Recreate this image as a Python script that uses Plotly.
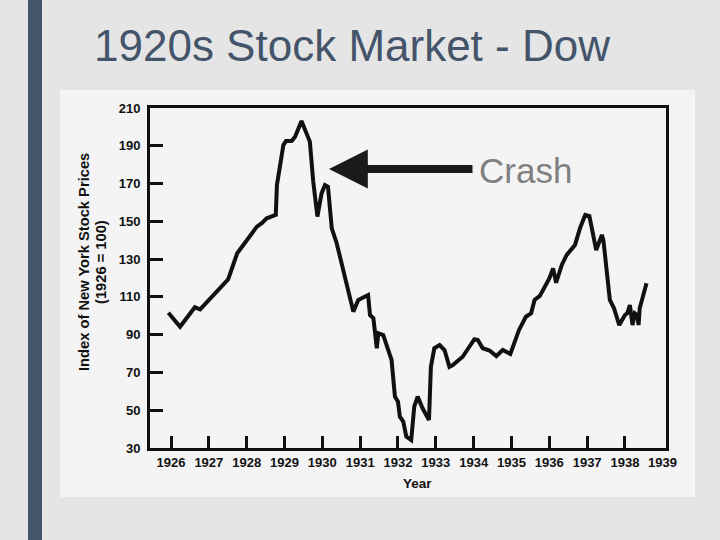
import plotly.graph_objects as go

# ---- data ----
years = [1925.93, 1926.24, 1926.63, 1926.77, 1927.51, 1927.60, 1927.75, 1928.27, 1928.40,
         1928.53, 1928.77, 1928.80, 1928.88, 1928.97, 1929.04, 1929.19, 1929.28, 1929.45,
         1929.67, 1929.76, 1929.87, 1929.98, 1930.07, 1930.15, 1930.25, 1930.38, 1930.82,
         1930.95, 1931.21, 1931.26, 1931.35, 1931.44, 1931.48, 1931.61, 1931.83, 1931.92,
         1932.00, 1932.05, 1932.14, 1932.22, 1932.35, 1932.43, 1932.52, 1932.65, 1932.82,
         1932.87, 1932.96, 1933.10, 1933.23, 1933.36, 1933.45, 1933.71, 1934.02, 1934.11,
         1934.24, 1934.42, 1934.60, 1934.77, 1934.97, 1935.20, 1935.38, 1935.52, 1935.61,
         1935.75, 1936.00, 1936.10, 1936.18, 1936.33, 1936.46, 1936.60, 1936.68, 1936.81,
         1936.95, 1937.06, 1937.24, 1937.39, 1937.43, 1937.60, 1937.71, 1937.85, 1938.00,
         1938.06, 1938.13, 1938.20, 1938.26, 1938.32, 1938.36, 1938.39, 1938.57]
index_values = [101.6, 94.2, 104.5, 103.4, 119.3, 124.2, 133.1, 147.2, 149.0,
                151.6, 153.4, 169.2, 178.1, 190.4, 192.5, 192.5, 194.8, 203.1,
                192.2, 171.0, 152.5, 164.8, 169.2, 168.3, 146.3, 138.4, 102.2,
                108.4, 111.0, 100.4, 98.7, 82.8, 90.7, 89.8, 76.6, 57.2,
                54.5, 46.6, 44.0, 36.0, 34.2, 51.9, 57.2, 51.0, 44.8,
                73.0, 82.8, 84.5, 81.9, 73.0, 73.9, 78.3, 87.6, 87.2,
                82.8, 81.6, 78.7, 81.9, 79.8, 92.5, 99.5, 101.3, 108.4,
                110.5, 119.8, 125.1, 117.5, 126.9, 132.2, 135.7, 137.5, 146.3,
                153.4, 152.8, 134.8, 142.8, 140.1, 108.4, 104.0, 95.1, 100.4,
                101.3, 105.7, 95.1, 101.3, 100.4, 95.1, 104.0, 117.2]
year_ticks = [1926, 1927, 1928, 1929, 1930, 1931, 1932, 1933, 1934, 1935, 1936, 1937, 1938, 1939]
value_ticks = [30, 50, 70, 90, 110, 130, 150, 170, 190, 210]

title_text = "1920s Stock Market - Dow"
y_title_1 = "Index of New York Stock Prices"
y_title_2 = "(1926 = 100)"
x_title = "Year"
crash_label = "Crash"

# ---- layout geometry (pixels) ----
W, H = 720, 540
L, R, T, B = 150, 666, 108, 448
pw, ph = R - L, B - T


def px(x):
    return (x - L) / pw


def py(y):
    return (B - y) / ph


FONT = "Liberation Sans, Arial, sans-serif"
INK = "#111111"

fig = go.Figure()
fig.add_trace(go.Scatter(
    x=years, y=index_values, mode="lines",
    line=dict(color=INK, width=4),
    hoverinfo="skip", showlegend=False,
))

shapes = [
    # scanned chart image background
    dict(type="rect", xref="paper", yref="paper", x0=px(60), x1=px(695), y0=py(497), y1=py(90),
         fillcolor="#f4f4f4", line=dict(width=0), layer="below"),
    # dark accent bar
    dict(type="rect", xref="paper", yref="paper", x0=px(28), x1=px(42), y0=py(540), y1=py(0),
         fillcolor="#44546a", line=dict(width=0), layer="below"),
]

annotations = [
    dict(text=title_text, xref="paper", yref="paper", x=px(92), y=py(45),
         xanchor="left", yanchor="middle", showarrow=False,
         font=dict(family=FONT, size=44, color="#44546a")),
    dict(text=y_title_1, xref="paper", yref="paper", x=px(84), y=py(262),
         xanchor="center", yanchor="middle", textangle=-90, showarrow=False,
         font=dict(family=FONT, size=14.7, color=INK, weight="bold")),
    dict(text=y_title_2, xref="paper", yref="paper", x=px(101), y=py(262),
         xanchor="center", yanchor="middle", textangle=-90, showarrow=False,
         font=dict(family=FONT, size=14.7, color=INK, weight="bold")),
    dict(text=x_title, xref="paper", yref="paper", x=px(417), y=py(483),
         xanchor="center", yanchor="middle", showarrow=False,
         font=dict(family=FONT, size=13.5, color=INK, weight="bold")),
    dict(text=str(year_ticks[-1]), xref="x", yref="paper", x=year_ticks[-1], y=py(462),
         xanchor="center", yanchor="middle", showarrow=False,
         font=dict(family=FONT, size=13, color=INK, weight="bold")),
    dict(text=crash_label, xref="paper", yref="paper", x=px(525), y=py(170),
         xanchor="center", yanchor="middle", showarrow=False,
         font=dict(family=FONT, size=35, color="#808080")),
    dict(text="", xref="paper", yref="paper", x=px(329), y=py(169),
         ax=474 - 329, ay=0, axref="pixel", ayref="pixel",
         showarrow=True, arrowhead=2, arrowwidth=8, arrowsize=0.97,
         arrowcolor="#1a1a1a"),
]

x0_year = 1926 + (L - 171) / 37.83
x1_year = 1926 + (R - 171) / 37.83

fig.update_layout(
    width=W, height=H,
    margin=dict(l=L, r=W - R, t=T, b=H - B),
    paper_bgcolor="#e5e5e5",
    plot_bgcolor="#f4f4f4",
    shapes=shapes,
    annotations=annotations,
    xaxis=dict(range=[x0_year, x1_year], tickvals=year_ticks[:-1], ticktext=[str(v) for v in year_ticks[:-1]],
               ticks="inside", ticklen=12, tickwidth=2.5, tickcolor=INK,
               showline=True, linewidth=3, linecolor=INK, mirror=True,
               showgrid=False, zeroline=False, ticklabelstandoff=0,
               tickfont=dict(family=FONT, size=13, color=INK, weight="bold")),
    yaxis=dict(range=[30, 210], tickvals=value_ticks,
               ticks="inside", ticklen=13, tickwidth=2.5, tickcolor=INK,
               showline=True, linewidth=3, linecolor=INK, mirror=True,
               showgrid=False, zeroline=False, ticklabelstandoff=4,
               tickfont=dict(family=FONT, size=13, color=INK, weight="bold")),
)

fig.write_html(
    "out.html",
    config={"displayModeBar": False},
    post_script="document.body.style.margin='0';document.body.style.background='#e5e5e5';"
                "document.body.style.overflow='hidden';",
)
